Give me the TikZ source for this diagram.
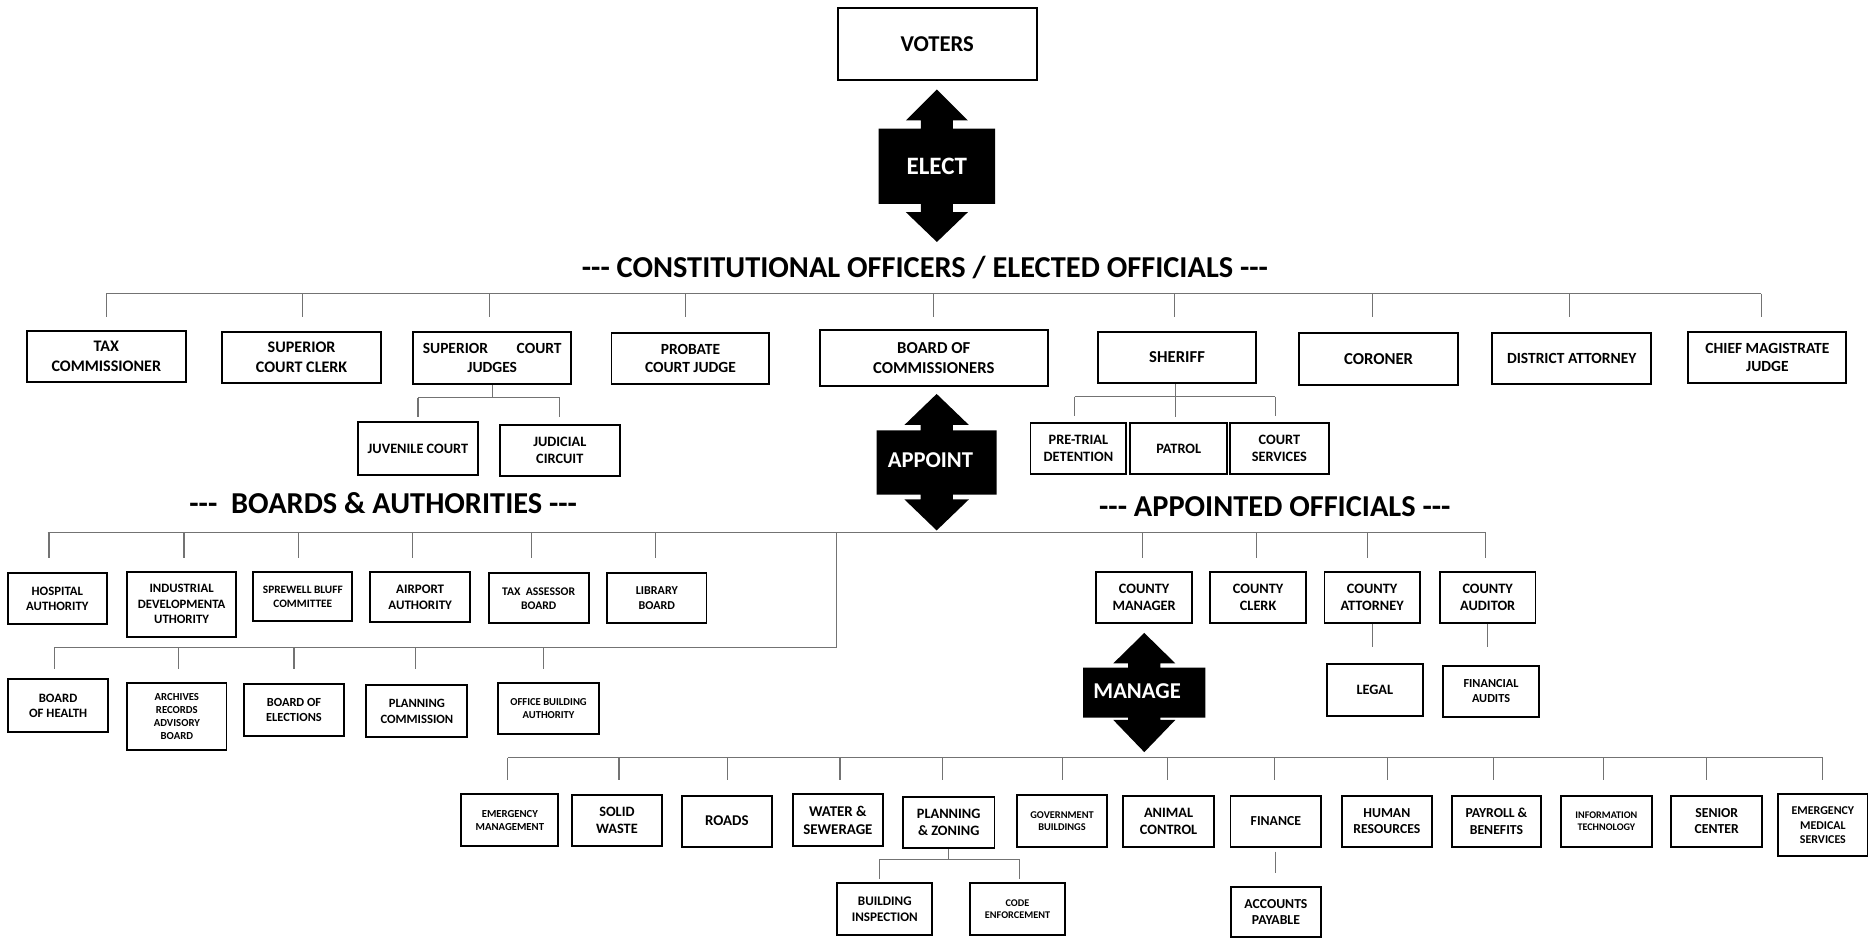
\documentclass[tikz,border=0pt]{standalone}
\usepackage{fontspec}
\setmainfont{Carlito}
\usetikzlibrary{calc}
\newcommand\tripledash{-{}-{}-}
\newcommand\obox[7][]{\node[box,#1,minimum width={#5-#3},minimum height={#6-#4}] (#2) at ({(#3+#5)/2},{(#4+#6)/2}) {#7};}
\newcommand\twoway[9]{%
 \fill[black] (#1,#2) -- (#1+#8,#3) -- (#1+13.5,#3) -- (#1+13.5,#4) -- (#1+#9,#4) -- (#1+#9,#5) -- (#1+13.5,#5) -- (#1+13.5,#6) -- (#1+#8,#6) -- (#1,#7) -- (#1-#8,#6) -- (#1-13.5,#6) -- (#1-13.5,#5) -- (#1-#9,#5) -- (#1-#9,#4) -- (#1-13.5,#4) -- (#1-13.5,#3) -- (#1-#8,#3) -- cycle;}
\begin{document}
\begin{tikzpicture}[x=1pt,y=-1pt,
  fs/.code={\pgfmathsetmacro\fsbl{1.22*#1}\edef\fsfont{\noexpand\bfseries\noexpand\fontsize{#1}{\fsbl}\noexpand\selectfont}\pgfkeysalso{/tikz/font/.expand once=\fsfont}},
  box/.style={draw=black,line width=1.6pt,fill=white,align=center,inner sep=0pt,text=black},
  conn/.style={draw=black!55,line width=0.9pt},
  bus/.style={draw=black!55,line width=1.1pt},
  head/.style={font=\bfseries\fontsize{25.5}{30}\selectfont,inner sep=0pt,anchor=base},
  arrtext/.style={text=white,inner sep=0pt}]
\fill[white] (0,0) rectangle (1568,787);
\useasboundingbox (0,0) rectangle (1568,787);

% ---------- top ----------
\obox[fs=19]{voters}{703}{6.5}{869.6}{67}{VOTERS}
\twoway{786}{75}{101}{108}{171}{178}{203}{26}{48.8}
\node[arrtext,fs=21] (elect) at (786,140) {ELECT};
\node[head] (hconst) at (776,232.5) {\tripledash{} CONSTITUTIONAL OFFICERS / ELECTED OFFICIALS \tripledash};

% ---------- constitutional officers ----------
\obox[fs=13.5]{tax}{22.6}{277.4}{155.8}{320.7}{TAX\\COMMISSIONER}
\obox[fs=13.5]{supclerk}{186.6}{278.2}{319.5}{321.6}{SUPERIOR\\COURT CLERK}
\obox[fs=13]{supjudges}{346.5}{278.8}{479.4}{322.4}{SUPERIOR\hspace{24pt}COURT\\JUDGES}
\obox[fs=13]{probate}{513}{279.1}{645.5}{322.4}{PROBATE\\COURT JUDGE}
\obox[fs=14]{board}{687.8}{276.8}{878.9}{323.6}{BOARD OF\\COMMISSIONERS}
\obox[fs=14]{sheriff}{921.2}{278.2}{1053.8}{321.6}{SHERIFF}
\obox[fs=14]{coroner}{1090}{279.1}{1223.1}{323}{CORONER}
\obox[fs=13]{da}{1251.8}{279.1}{1385.3}{322.5}{DISTRICT ATTORNEY}
\obox[fs=13]{chief}{1416.5}{278.2}{1549}{321.6}{CHIEF MAGISTRATE\\JUDGE}

\obox[fs=12]{juvenile}{300}{354.3}{401.3}{398.5}{JUVENILE COURT}
\obox[fs=12]{judicial}{419.5}{356.5}{519.8}{399.3}{JUDICIAL\\CIRCUIT}
\obox[fs=12]{pretrial}{864.5}{354.6}{945}{397.9}{PRE-TRIAL\\DETENTION}
\obox[fs=12]{patrol}{948.2}{354.6}{1029.6}{397.9}{PATROL}
\obox[fs=12]{courtserv}{1031.9}{354.6}{1114.7}{397.9}{COURT\\SERVICES}

\coordinate (b1L) at (89,246.3);
\coordinate (b1R) at (1477.5,246.3);
\draw[bus] (b1L) -- (b1R);
\foreach \n/\s in {tax/0,supclerk/1,supjudges/-2,probate/-4,board/0,sheriff/-2,coroner/-5,da/-2,chief/-5.3}
  \draw[conn] ($(\n.north |- b1L)+(\s,0)$) -- ++(0,19.5);

\draw[conn] (supjudges.south) -- ++(0,10.4) coordinate (sjm);
\draw[conn] (juvenile.north |- sjm) -- (judicial.north |- sjm);
\draw[conn] (juvenile.north |- sjm) -- ++(0,16.2);
\draw[conn] (judicial.north |- sjm) -- ++(0,16.2);

\coordinate (shL) at (901.7,332.8);
\coordinate (shR) at (1070,332.8);
\draw[conn] ($(sheriff.south)+(-1.2,0)$) -- ++(0,27.4);
\draw[conn] (shL) -- (shR);
\draw[conn] (shL) -- ++(0,16.2);
\draw[conn] (shR) -- ++(0,16.2);

% ---------- appoint ----------
\twoway{785.8}{330.5}{356.5}{361}{415}{419}{445}{27}{50.3}
\node[arrtext,fs=19] (appoint) at (780.6,386) {APPOINT};
\node[head] (hboards) at (321.5,431) {\tripledash\ \ BOARDS \& AUTHORITIES \tripledash};
\node[head] (happt) at (1069.5,433) {\tripledash{} APPOINTED OFFICIALS \tripledash};

% ---------- boards & authorities ----------
\obox[fs=10.7]{hosp}{6.4}{481}{89.8}{523.5}{HOSPITAL\\AUTHORITY}
\obox[fs=10.7]{indus}{106.8}{479.6}{197.9}{534.1}{INDUSTRIAL\\DEVELOPMENTA\\UTHORITY}
\obox[fs=9.5]{sprew}{212.6}{480}{295.5}{521}{SPREWELL BLUFF\\COMMITTEE}
\obox[fs=10.9]{airport}{310.6}{480}{394.4}{522}{AIRPORT\\AUTHORITY}
\obox[fs=9.8]{taxass}{410}{481}{493.8}{523}{TAX\ \ ASSESSOR\\BOARD}
\obox[fs=10.1]{library}{509.4}{481}{592.7}{523}{LIBRARY\\BOARD}

\obox[fs=10.7]{health}{6.9}{569.9}{90.6}{614.4}{BOARD\\OF HEALTH}
\obox[fs=9]{archives}{106.8}{572.7}{190}{629.2}{ARCHIVES\\RECORDS\\ADVISORY\\BOARD}
\obox[fs=10.4]{elections}{204.8}{573.8}{288.5}{617.2}{BOARD OF\\ELECTIONS}
\obox[fs=10.6]{plancomm}{307.4}{575}{392.1}{618.5}{PLANNING\\COMMISSION}
\obox[fs=8.9]{office}{417.9}{572.7}{502.5}{616}{OFFICE BUILDING\\AUTHORITY}

% ---------- appointed officials ----------
\obox[fs=12]{cmgr}{919.5}{479.6}{1000.2}{522.4}{COUNTY\\MANAGER}
\obox[fs=12]{cclerk}{1015.4}{479.6}{1095.6}{522.4}{COUNTY\\CLERK}
\obox[fs=12]{catty}{1111.2}{479.6}{1191.1}{522.4}{COUNTY\\ATTORNEY}
\obox[fs=12]{caud}{1208}{479.6}{1288.2}{522.4}{COUNTY\\AUDITOR}
\obox[fs=12]{legal}{1113.3}{557.3}{1193.5}{600.4}{LEGAL}
\obox[fs=10.3]{finaud}{1210.8}{558.5}{1291}{601.3}{FINANCIAL\\AUDITS}
\draw[conn] (catty.south) -- ++(0,20);
\draw[conn] (caud.south) -- ++(0,20);

\coordinate (b2L) at (40,446.7);
\coordinate (b2R) at (1246,446.7);
\draw[bus] (b2L) -- (b2R);
\foreach \n/\s in {hosp/-7,indus/2,sprew/-4,airport/-6.5,taxass/-6,library/-1,cmgr/-1,cclerk/-1,catty/-4,caud/-2}
  \draw[conn] ($(\n.north |- b2L)+(\s,0)$) -- ++(0,21.5);

\coordinate (bj) at (702,446.7);
\coordinate (bk) at (702,543);
\coordinate (b3L) at (46,543);
\draw[conn] (bj) -- (bk) -- (b3L);
\foreach \n/\s in {health/-2.7,archives/1,elections/0,plancomm/-1,office/-4.6}
  \draw[conn] ($(\n.north |- bk)+(\s,0)$) -- ++(0,18.5);

% ---------- manage ----------
\twoway{960}{531}{556.5}{560}{602}{604}{631}{26}{51.3}
\node[arrtext,fs=19] (manage) at (954,579.8) {MANAGE};

\obox[fs=9]{emgmt}{387.1}{666.4}{468.4}{709.7}{EMERGENCY\\MANAGEMENT}
\obox[fs=12]{solid}{479.6}{667}{555.6}{709.7}{SOLID\\WASTE}
\obox[fs=12.5]{roads}{572.1}{667.5}{647.4}{710.3}{ROADS}
\obox[fs=12.5]{water}{665}{666.4}{741}{709.7}{WATER \&\\SEWERAGE}
\obox[fs=12]{pz}{757.5}{668.4}{834.3}{711.7}{PLANNING\\\& ZONING}
\obox[fs=8.7]{gov}{853}{667.2}{929}{710.3}{GOVERNMENT\\BUILDINGS}
\obox[fs=12]{animal}{942.5}{667.5}{1018.3}{710.3}{ANIMAL\\CONTROL}
\obox[fs=11.5]{finance}{1032.3}{667.5}{1108.4}{710.3}{FINANCE}
\obox[fs=11.5]{hr}{1125.7}{667.5}{1201.3}{710.3}{HUMAN\\RESOURCES}
\obox[fs=11.5]{payroll}{1217.8}{667.5}{1293.1}{710.3}{PAYROLL \&\\BENEFITS}
\obox[fs=8.5]{info}{1309.6}{667.5}{1385.7}{710.3}{INFORMATION\\TECHNOLOGY}
\obox[fs=11.5]{senior}{1402.2}{667.5}{1478.3}{710.3}{SENIOR\\CENTER}
\obox[fs=10]{ems}{1491.9}{666.4}{1566.7}{718.1}{EMERGENCY\\MEDICAL\\SERVICES}
\obox[fs=11]{bi}{702.4}{741}{782.2}{784.4}{BUILDING\\INSPECTION}
\obox[fs=8.6]{ce}{813.7}{741}{893.5}{784.4}{CODE\\ENFORCEMENT}
\obox[fs=11.5]{ap}{1032.7}{743.9}{1108.2}{786.2}{ACCOUNTS\\PAYABLE}

\coordinate (b4L) at (426,635.5);
\coordinate (b4R) at (1529.3,635.5);
\draw[bus] (b4L) -- (b4R);
\foreach \n/\s in {emgmt/-1.7,solid/1.7,roads/0.3,water/1.7,pz/-5,gov/0.6,animal/-1.2,finance/-1.4,hr/0.8,payroll/-2.7,info/-2.2,senior/-8.4,ems/0}
  \draw[conn] ($(\n.north |- b4L)+(\s,0)$) -- ++(0,19);

\draw[conn] (pz.south) -- ++(0,9) coordinate (pzm);
\coordinate (pzL) at (738,720.7);
\coordinate (pzR) at (855,720.7);
\draw[conn] (pzL) -- (pzR);
\draw[conn] (pzL) -- ++(0,17);
\draw[conn] (pzR) -- ++(0,17);
\draw[conn] ($(finance.south)+(0,3.3)$) -- ++(0,18.2);
\end{tikzpicture}
\end{document}
